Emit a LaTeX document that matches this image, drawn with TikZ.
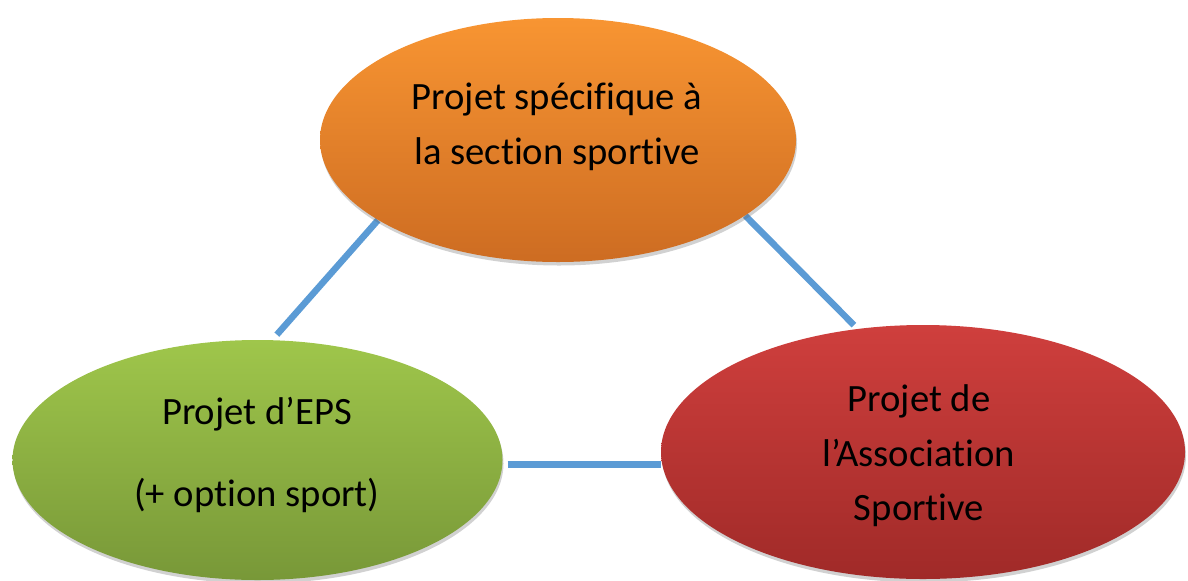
\documentclass[tikz,border=0pt]{standalone}
\usepackage{fontspec}
\setmainfont{Carlito}[Ligatures={TeX,NoCommon}]
\usetikzlibrary{shapes.geometric,shadows,backgrounds}
\definecolor{orangehaut}{HTML}{F89532}
\definecolor{orangebas}{HTML}{CD6C22}
\definecolor{verthaut}{HTML}{9FC64B}
\definecolor{vertbas}{HTML}{789838}
\definecolor{rougehaut}{HTML}{CF3F3D}
\definecolor{rougebas}{HTML}{A02A28}
\definecolor{lienbleu}{HTML}{5B9BD5}
\begin{document}
\begin{tikzpicture}[
  bulle/.style={ellipse,inner sep=0pt,
    drop shadow={shadow xshift=0.02cm,shadow yshift=-0.07cm,opacity=0.3,fill=black!60}},
  texte/.style={align=center,font=\fontsize{22}{31}\selectfont},
  lien/.style={draw=lienbleu,line width=0.13cm}]
\useasboundingbox (0,0) rectangle (23.76,-11.6);
% les trois projets
\node[bulle,top color=orangehaut,bottom color=orangebas,
  minimum width=9.52cm,minimum height=4.88cm] (section) at (11.16,-2.80) {};
\node[texte] (sectiontxt) at (11.14,-2.54) {Projet spécifique à\\la section sportive};
\node[bulle,top color=verthaut,bottom color=vertbas,
  minimum width=9.8cm,minimum height=4.8cm] (eps) at (5.15,-9.20) {};
\node[texte] (epstxt) at (5.14,-9.10) {Projet d’EPS\\[16pt](+ option sport)};
\node[bulle,top color=rougehaut,bottom color=rougebas,
  minimum width=10.48cm,minimum height=5.08cm] (as) at (18.46,-9.04) {};
\node[texte] (astxt) at (18.38,-9.12) {Projet de\\l’Association\\Sportive};
% liens entre projets
\begin{scope}[on background layer]
\draw[lien,shorten >=0.14cm] (section.204) -- (eps.83);
\draw[lien,shorten >=0.1cm] (section.-22) -- (as.118);
\draw[lien,shorten <=0.1cm] (eps.-1) -- (eps.-1 -| as.west);
\end{scope}
\end{tikzpicture}
\end{document}
